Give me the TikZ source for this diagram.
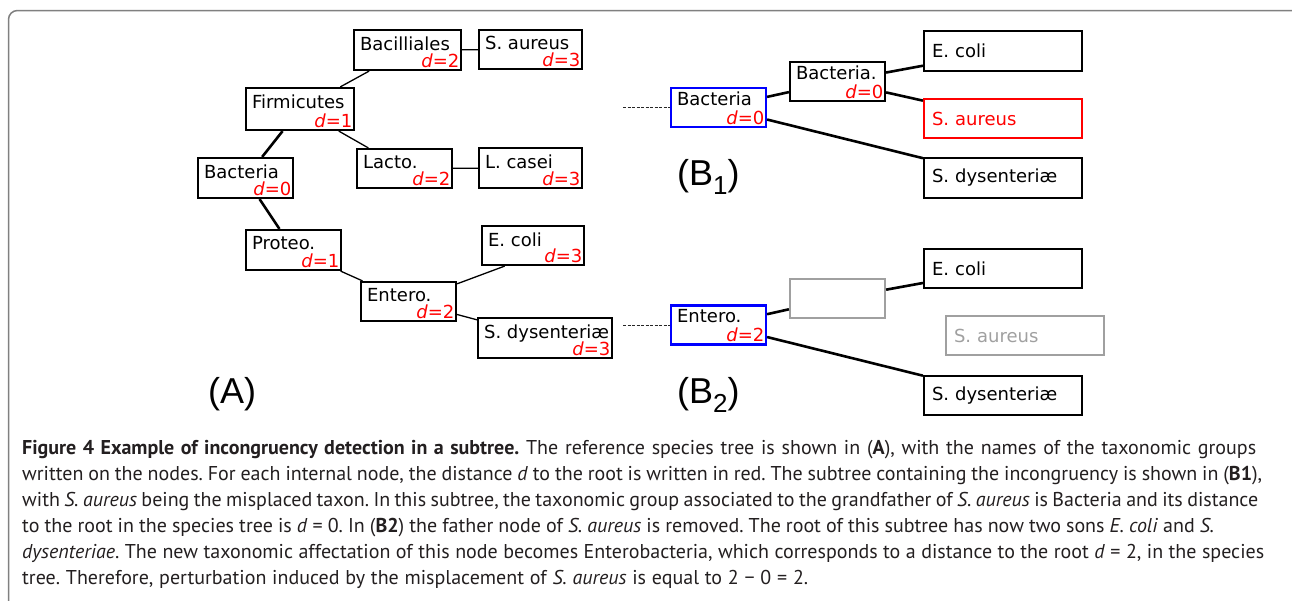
\documentclass[tikz,border=0pt]{standalone}
\usepackage{fontspec}
\setmainfont{PT Sans}
\newfontfamily\boxfont{DejaVu Sans}
\newfontfamily\panelfont{Liberation Sans}
\usetikzlibrary{positioning}

\definecolor{boxgray}{RGB}{160,160,160}
\definecolor{framegray}{RGB}{128,128,128}
\definecolor{dred}{RGB}{255,0,0}
\definecolor{dblue}{RGB}{0,0,255}
\definecolor{captext}{RGB}{35,31,32}

\newcommand{\dval}[1]{\textit{d}=#1}
\newcommand{\capfit}[2]{\makebox[#1][s]{#2}}

\tikzset{
  taxon/.style 2 args={draw, line width=2.2pt, inner sep=0pt, minimum width=#1, minimum height=#2},
  nm/.style={anchor=north west, inner xsep=7pt, inner ysep=7.5pt, font=\boxfont\fontsize{18pt}{21pt}\selectfont},
  nmb/.style={nm, inner ysep=5pt},
  dd/.style={anchor=south east, inner xsep=2.5pt, inner ysep=3.5pt, text=dred, font=\boxfont\fontsize{18pt}{21pt}\selectfont},
  leaf/.style={draw, line width=2.2pt, minimum height=39.5pt, text width=142pt, inner xsep=8pt, inner ysep=0pt, align=left, font=\boxfont\fontsize{18pt}{21pt}\selectfont},
  light/.style={line width=1.3pt},
  heavy/.style={line width=2.6pt},
  stub/.style={line width=1pt, black!85, dash pattern=on 3pt off 1.5pt},
  panel/.style={anchor=base west, inner sep=0pt, font=\panelfont\fontsize{36pt}{40pt}\selectfont},
  capline/.style={anchor=base west, inner sep=0pt, text=captext, font=\fontsize{20pt}{26pt}\selectfont\frenchspacing}
}

\begin{document}
\begin{tikzpicture}[x=1pt, y=-1pt]
\useasboundingbox (0,0) rectangle (1292,600);
\clip (0,0) rectangle (1292,600);
\draw[framegray, line width=1.5pt, rounded corners=9pt] (8.5,640) -- (8.5,10.5) -- (1300,10.5) -- (1300,640);

% (A) species tree
\node[taxon={95pt}{40pt}, label={[nm]north west:Bacteria}, label={[dd]south east:\dval{0}}] (bact) at (245.5,178) {};
\node[taxon={108pt}{42pt}, label={[nm]north west:Firmicutes}, label={[dd]south east:\dval{1}}] (firm) at (300,109) {};
\node[taxon={107pt}{40pt}, label={[nm]north west:Bacilliales}, label={[dd]south east:\dval{2}}] (bacil) at (407.5,50) {};
\node[taxon={103pt}{39pt}, label={[nm]north west:S. aureus}, label={[dd]south east:\dval{3}}] (saur) at (530.5,49.5) {};
\node[taxon={95pt}{39pt}, label={[nm]north west:Lacto.}, label={[dd]south east:\dval{2}}] (lacto) at (404.5,168.5) {};
\node[taxon={103pt}{40pt}, label={[nm]north west:L. casei}, label={[dd]south east:\dval{3}}] (lcas) at (530.5,168) {};
\node[taxon={95pt}{40pt}, label={[nm]north west:Proteo.}, label={[dd]south east:\dval{1}}] (prot) at (293.5,250) {};
\node[taxon={95pt}{39pt}, label={[nm]north west:Entero.}, label={[dd]south east:\dval{2}}] (ent) at (408.5,301.5) {};
\node[taxon={102pt}{39pt}, label={[nm]north west:E. coli}, label={[dd]south east:\dval{3}}] (ecol) at (533,245.5) {};
\node[taxon={134pt}{40pt}, label={[nm]north west:S. dysenteriæ}, label={[dd]south east:\dval{3}}] (sdys) at (545,338) {};

\draw[heavy] (bact) -- (firm);
\draw[heavy] (bact) -- (prot);
\draw[light] (firm) -- (bacil);
\draw[light] (firm) -- (lacto);
\draw[light] (bacil) -- (saur);
\draw[light] (lacto) -- (lcas);
\draw[light] (prot) -- (ent);
\draw[light] (ent.20) -- (ecol.216);
\draw[light] (ent) -- (sdys);

% (B1) subtree with S. aureus
\coordinate (bstubA) at (623,107.5);
\node[taxon={95pt}{39pt}, draw=dblue, label={[nmb]north west:Bacteria}, label={[dd]south east:\dval{0}}] (bbact) at (718.5,107.5) {};
\node[taxon={95pt}{39pt}, label={[nmb]north west:Bacteria.}, label={[dd]south east:\dval{0}}] (bbactp) at (837.5,81.5) {};
\node[leaf] (becolA) at (1003,51) {E. coli};
\node[leaf, draw=dred, text=dred] (bsaurA) at (1003,118.5) {S. aureus};
\node[leaf] (bsdysA) at (1003,178) {S. dysenteriæ};

\draw[stub] (bstubA) -- (bbact.west);
\draw[heavy] (bbact) -- (bbactp);
\draw[heavy] (bbactp) -- (becolA);
\draw[heavy] (bbactp) -- (bsaurA);
\draw[heavy] (bbact) -- (bsdysA);

% (B2) S. aureus removed
\coordinate (bstubB) at (623,325);
\node[taxon={95pt}{39pt}, draw=dblue, label={[nmb]north west:Entero.}, label={[dd]south east:\dval{2}}] (bent) at (718.5,325) {};
\node[taxon={95pt}{39pt}, draw=boxgray] (bgone) at (837.5,298.5) {};
\node[leaf] (becolB) at (1003,268.5) {E. coli};
\node[leaf, draw=boxgray, text=boxgray] (bsaurB) at (1025,335.5) {S. aureus};
\node[leaf] (bsdysB) at (1003,395.5) {S. dysenteriæ};

\draw[stub] (bstubB) -- (bent.west);
\draw[heavy] (bent) -- (bgone);
\draw[heavy] (bgone) -- (becolB);
\draw[heavy] (bent) -- (bsdysB);

% panel letters
\node[panel] (labA) at (208,403) {(A)};
\node[panel] (labBA) at (677,185) {(B\raisebox{-9pt}{\fontsize{26pt}{26pt}\selectfont 1})};
\node[panel] (labBB) at (677,403) {(B\raisebox{-9pt}{\fontsize{26pt}{26pt}\selectfont 2})};

% caption
\node[capline] (cap1) at (22,454) {\capfit{1234pt}{\textbf{Figure 4 Example of incongruency detection in a subtree.} The reference species tree is shown in (\textbf{A}), with the names of the taxonomic groups}};
\node[capline] (cap2) at (22,480) {\capfit{1240pt}{written on the nodes. For each internal node, the distance \textit{d} to the root is written in red. The subtree containing the incongruency is shown in (\textbf{B1}),}};
\node[capline] (cap3) at (22,506) {\capfit{1236pt}{with \textit{S. aureus} being the misplaced taxon. In this subtree, the taxonomic group associated to the grandfather of \textit{S. aureus} is Bacteria and its distance}};
\node[capline] (cap4) at (22,532) {\capfit{1192pt}{to the root in the species tree is \textit{d} = 0. In (\textbf{B2}) the father node of \textit{S. aureus} is removed. The root of this subtree has now two sons \textit{E. coli} and \textit{S.}}};
\node[capline] (cap5) at (22,558) {\capfit{1242pt}{\textit{dysenteriae}. The new taxonomic affectation of this node becomes Enterobacteria, which corresponds to a distance to the root \textit{d} = 2, in the species}};
\node[capline] (cap6) at (22,584) {\capfit{786pt}{tree. Therefore, perturbation induced by the misplacement of \textit{S. aureus} is equal to 2 − 0 = 2.}};
\end{tikzpicture}
\end{document}
